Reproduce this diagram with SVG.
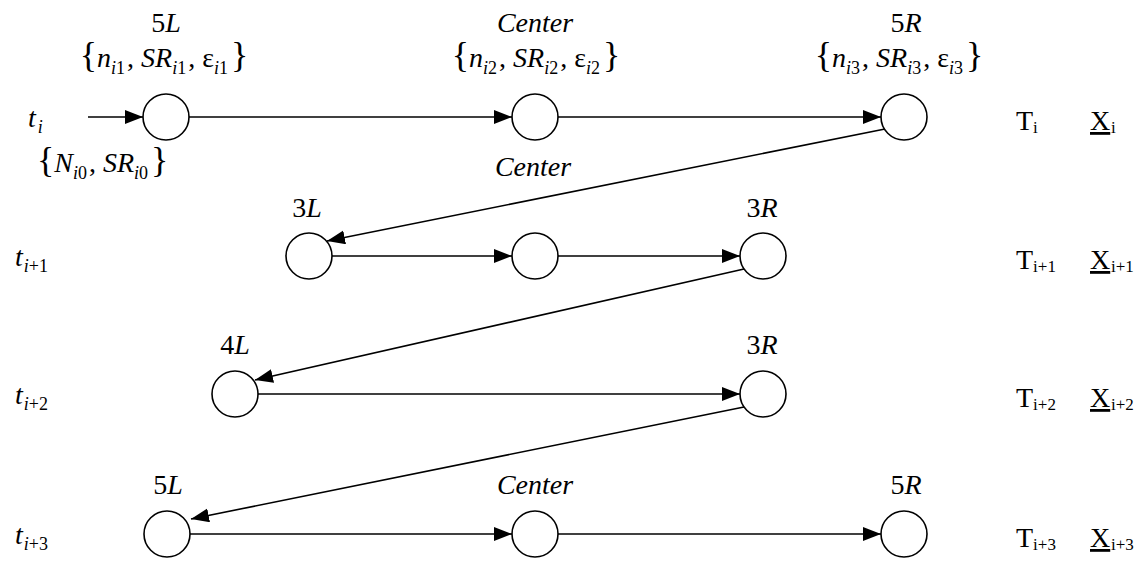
<svg xmlns="http://www.w3.org/2000/svg" width="1144" height="561" viewBox="0 0 1144 561">
<style>
text{font-family:"Liberation Serif","Times New Roman",serif;font-size:28px;fill:#000}
.it{font-style:italic}
.up{font-style:normal}
.sub{font-size:18px}
.rs{font-size:17px}
.br{font-size:36px}
.node circle{fill:#fff;stroke:#000;stroke-width:1.6}
.conn line{stroke:#000;stroke-width:1.6}
</style>
<defs>
<marker id="ah" markerUnits="userSpaceOnUse" markerWidth="19" markerHeight="15" refX="18" refY="7" orient="auto">
<path d="M0,0 L18,7 L0,14 z" fill="#000"/>
</marker>
</defs>
<g class="conn">
<line x1="88" y1="117" x2="143" y2="117" marker-end="url(#ah)"/>
<line x1="189" y1="117" x2="512" y2="117" marker-end="url(#ah)"/>
<line x1="558" y1="117" x2="881" y2="117" marker-end="url(#ah)"/>
<line x1="885" y1="129" x2="327" y2="241" marker-end="url(#ah)"/>
<line x1="332" y1="256" x2="512" y2="256" marker-end="url(#ah)"/>
<line x1="558" y1="256" x2="740" y2="256" marker-end="url(#ah)"/>
<line x1="744" y1="269" x2="255" y2="380" marker-end="url(#ah)"/>
<line x1="258" y1="394" x2="740" y2="394" marker-end="url(#ah)"/>
<line x1="744" y1="407" x2="191" y2="519" marker-end="url(#ah)"/>
<line x1="190" y1="534" x2="512" y2="534" marker-end="url(#ah)"/>
<line x1="558" y1="534" x2="881" y2="534" marker-end="url(#ah)"/>
</g>
<g id="n11" class="node"><circle cx="166" cy="117" r="23"/>
<text x="166" y="32" text-anchor="middle">5<tspan class="it">L</tspan></text>
<text x="164" y="67" text-anchor="middle"><tspan class="br">{</tspan><tspan class="it">n</tspan><tspan class="sub it" dy="7">i</tspan><tspan class="sub">1</tspan><tspan dx="2" dy="-7">, </tspan><tspan class="it">SR</tspan><tspan class="sub it" dy="7">i</tspan><tspan class="sub">1</tspan><tspan dx="2" dy="-7">, ε</tspan><tspan class="sub it" dy="7">i</tspan><tspan class="sub">1</tspan><tspan class="br" dx="3" dy="-7">}</tspan></text>
</g>
<g id="n12" class="node"><circle cx="535" cy="117" r="23"/>
<text x="535" y="32" text-anchor="middle" class="it">Center</text>
<text x="536" y="67" text-anchor="middle"><tspan class="br">{</tspan><tspan class="it">n</tspan><tspan class="sub it" dy="7">i</tspan><tspan class="sub">2</tspan><tspan dx="2" dy="-7">, </tspan><tspan class="it">SR</tspan><tspan class="sub it" dy="7">i</tspan><tspan class="sub">2</tspan><tspan dx="2" dy="-7">, ε</tspan><tspan class="sub it" dy="7">i</tspan><tspan class="sub">2</tspan><tspan class="br" dx="3" dy="-7">}</tspan></text>
</g>
<g id="n13" class="node"><circle cx="904" cy="117" r="23"/>
<text x="906" y="32" text-anchor="middle">5<tspan class="it">R</tspan></text>
<text x="899" y="67" text-anchor="middle"><tspan class="br">{</tspan><tspan class="it">n</tspan><tspan class="sub it" dy="7">i</tspan><tspan class="sub">3</tspan><tspan dx="2" dy="-7">, </tspan><tspan class="it">SR</tspan><tspan class="sub it" dy="7">i</tspan><tspan class="sub">3</tspan><tspan dx="2" dy="-7">, ε</tspan><tspan class="sub it" dy="7">i</tspan><tspan class="sub">3</tspan><tspan class="br" dx="3" dy="-7">}</tspan></text>
</g>
<g id="n21" class="node"><circle cx="309" cy="256" r="23"/>
<text x="307" y="217" text-anchor="middle">3<tspan class="it">L</tspan></text>
</g>
<g id="n22" class="node"><circle cx="535" cy="256" r="23"/>
<text x="533" y="176" text-anchor="middle" class="it">Center</text>
</g>
<g id="n23" class="node"><circle cx="763" cy="256" r="23"/>
<text x="762" y="217" text-anchor="middle">3<tspan class="it">R</tspan></text>
</g>
<g id="n31" class="node"><circle cx="235" cy="394" r="23"/>
<text x="235" y="354" text-anchor="middle">4<tspan class="it">L</tspan></text>
</g>
<g id="n33" class="node"><circle cx="763" cy="394" r="23"/>
<text x="762" y="354" text-anchor="middle">3<tspan class="it">R</tspan></text>
</g>
<g id="n41" class="node"><circle cx="167" cy="534" r="23"/>
<text x="168" y="494" text-anchor="middle">5<tspan class="it">L</tspan></text>
</g>
<g id="n42" class="node"><circle cx="535" cy="534" r="23"/>
<text x="535" y="494" text-anchor="middle" class="it">Center</text>
</g>
<g id="n43" class="node"><circle cx="904" cy="534" r="23"/>
<text x="906" y="494" text-anchor="middle">5<tspan class="it">R</tspan></text>
</g>
<g id="labels-left">
<text x="28" y="127" class="it">t<tspan class="sub" dx="2" dy="6">i</tspan></text>
<text x="37" y="172"><tspan class="br">{</tspan><tspan class="it">N</tspan><tspan class="sub it" dy="7">i</tspan><tspan class="sub">0</tspan><tspan dx="2" dy="-7">, </tspan><tspan class="it">SR</tspan><tspan class="sub it" dy="7">i</tspan><tspan class="sub">0</tspan><tspan class="br" dx="3" dy="-7">}</tspan></text>
<text x="15" y="266" class="it">t<tspan class="sub" dx="1" dy="6">i</tspan><tspan class="sub up">+1</tspan></text>
<text x="15" y="404" class="it">t<tspan class="sub" dx="1" dy="6">i</tspan><tspan class="sub up">+2</tspan></text>
<text x="15" y="544" class="it">t<tspan class="sub" dx="1" dy="6">i</tspan><tspan class="sub up">+3</tspan></text>
</g>
<g id="labels-right">
<text x="1016" y="130">T<tspan class="rs" dy="3">i</tspan></text>
<text x="1090" y="130" text-decoration="underline">X</text><text x="1111" y="133" class="rs">i</text>
<text x="1016" y="269">T<tspan class="rs" dy="3">i+1</tspan></text>
<text x="1090" y="269" text-decoration="underline">X</text><text x="1111" y="272" class="rs">i+1</text>
<text x="1016" y="407">T<tspan class="rs" dy="3">i+2</tspan></text>
<text x="1090" y="407" text-decoration="underline">X</text><text x="1111" y="410" class="rs">i+2</text>
<text x="1016" y="547">T<tspan class="rs" dy="3">i+3</tspan></text>
<text x="1090" y="547" text-decoration="underline">X</text><text x="1111" y="550" class="rs">i+3</text>
</g>
</svg>
